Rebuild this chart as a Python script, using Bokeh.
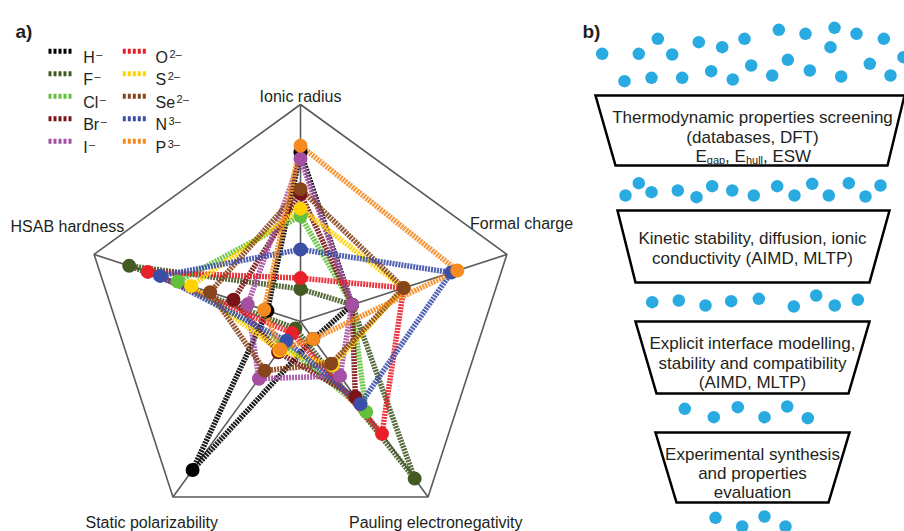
import numpy as np
from bokeh.plotting import figure
from bokeh.models import Range1d
from bokeh.embed import file_html
from bokeh.resources import INLINE
from bokeh.core.properties import value

# ---------------- data (panel a) ----------------
axis_labels = ["Ionic radius", "Formal charge", "Pauling electronegativity",
               "Static polarizability", "HSAB hardness"]
ions = ["H", "F", "Cl", "Br", "I", "O", "S", "Se", "N", "P"]
charges = ["–", "–", "–", "–", "–", "2–", "2–", "2–", "3–", "3–"]
colors = ["#000000", "#435a23", "#63c03c", "#7b1418", "#a44fa3",
          "#e8202a", "#ffd200", "#87451c", "#3c4fa8", "#f58a1f"]
# normalised values (fraction of the axis length), one list per axis, in ion order
ionic_radius      = [0.78, 0.15, 0.486, 0.59, 0.75, 0.20, 0.52, 0.61, 0.332, 0.81]
formal_charge     = [0.25, 0.25, 0.25, 0.25, 0.25, 0.50, 0.50, 0.50, 0.73, 0.76]
electronegativity = [0.10, 0.895, 0.515, 0.43, 0.31, 0.639, 0.25, 0.24, 0.47, 0.10]
polarizability    = [0.846, 0.04, 0.13, 0.175, 0.326, 0.066, 0.165, 0.28, 0.11, 0.158]
hsab_hardness     = [0.16, 0.83, 0.595, 0.325, 0.256, 0.74, 0.53, 0.438, 0.68, 0.176]

# ---------------- data (panel b) ----------------
stage_lines = [
    ["Thermodynamic properties screening", "(databases, DFT)", None],
    ["Kinetic stability, diffusion, ionic", "conductivity (AIMD, MLTP)"],
    ["Explicit interface modelling,", "stability and compatibility", "(AIMD, MLTP)"],
    ["Experimental synthesis", "and properties", "evaluation"],
]
dot_x = [601.7, 638.3, 657.3, 671.7, 698.3, 721.7, 744, 778.3, 805, 834, 856, 883.3,
         624, 651, 681.7, 710.7, 732.3, 750.7, 771.7, 787.3, 809.3, 830, 840.7, 869.3, 890, 903,
         625, 638.3, 651, 677.3, 696, 711.7, 731.7, 753.3, 776.7, 794, 811.7, 828.3, 848.3, 865, 880,
         651.7, 678.3, 705, 730.7, 758.3, 793.3, 815.7, 834.3, 857.3,
         684.3, 713.3, 737.3, 764, 786.7, 807.3,
         715, 741.7, 764, 785]
dot_y = [53.3, 53.3, 38.3, 54, 41.7, 46.7, 38.3, 29.3, 33.3, 27.3, 33.3, 38.3,
         80.7, 77.3, 77.3, 70.7, 79, 65, 75, 59.3, 70, 46.7, 76, 63.3, 75, 56.7,
         195, 182.7, 191.7, 190, 196.7, 185.7, 190, 195, 185.7, 195, 183.3, 195, 182.7, 196, 185,
         301.7, 300, 305, 300.7, 298.3, 306, 295, 305, 299.3,
         408.3, 416.7, 406.7, 416.7, 406, 417.7,
         517.3, 526, 516, 526]

FONT = value("Liberation Sans")
TXT = "#231f20"

p = figure(width=904, height=531, x_range=Range1d(0, 904), y_range=Range1d(531, 0),
           output_backend="svg", toolbar_location=None, min_border=0,
           x_axis_location=None, y_axis_location=None)
p.grid.visible = False
p.outline_line_color = None
p.background_fill_color = "white"

# ---------------- radar geometry ----------------
cx, cy, R = 300.0, 321.0, 217.0
theta = np.radians(90 - 72 * np.arange(5))
ux, uy = np.cos(theta), -np.sin(theta)

vx = cx + R * ux
vy = cy + R * uy
p.line(list(vx) + [vx[0]], list(vy) + [vy[0]], line_color="#5a5a5a", line_width=1.6)
p.segment(x0=[cx] * 5, y0=[cy] * 5, x1=list(vx), y1=list(vy), line_color="#5a5a5a", line_width=1.6)

vals = np.array([ionic_radius, formal_charge, electronegativity, polarizability, hsab_hardness]).T
px = cx + vals * R * ux[None, :]
py = cy + vals * R * uy[None, :]

for i, c in enumerate(colors):
    xs = list(px[i]) + [px[i][0]]
    ys = list(py[i]) + [py[i][0]]
    p.line(xs, ys, line_color=c, line_width=5.5, line_dash="2 1", line_cap="butt", line_alpha=0.9)
for i, c in enumerate(colors):
    p.scatter(px[i], py[i], size=14, fill_color=c, line_color=None, marker="circle")

# axis labels
p.text(x=[300], y=[96], text=[axis_labels[0]], text_align="center", text_font=FONT,
       text_font_size="16px", text_color=TXT, text_baseline="alphabetic")
p.text(x=[469.5], y=[222.5], text=[axis_labels[1]], text_align="left", text_font=FONT,
       text_font_size="16px", text_color=TXT, text_baseline="alphabetic")
p.text(x=[348.5], y=[522], text=[axis_labels[2]], text_align="left", text_font=FONT,
       text_font_size="16px", text_color=TXT, text_baseline="alphabetic")
p.text(x=[85], y=[522], text=[axis_labels[3]], text_align="left", text_font=FONT,
       text_font_size="16px", text_color=TXT, text_baseline="alphabetic")
p.text(x=[10], y=[226], text=[axis_labels[4]], text_align="left", text_font=FONT,
       text_font_size="16px", text_color=TXT, text_baseline="alphabetic")

# legend
label_w = [11.6, 9.8, 15.1, 16.0, 4.4, 12.4, 10.7, 19.6, 11.6, 10.7]
for i, (ion, ch, c) in enumerate(zip(ions, charges, colors)):
    col, row = divmod(i, 5)
    ly = 50.7 + 22.5 * row
    sx = 48 + 74.3 * col
    lx = 82.7 + 72.3 * col
    p.line([sx, sx + 25], [ly, ly], line_color=c, line_width=5, line_dash="3 2", line_cap="butt")
    p.text(x=[lx], y=[ly + 5.8], text=[ion], text_font=FONT, text_font_size="16px",
           text_color=TXT, text_baseline="alphabetic")
    p.text(x=[lx + label_w[i] + 1.5], y=[ly + 2.5], text=[ch], text_font=FONT,
           text_font_size="11px", text_color=TXT, text_baseline="alphabetic")

p.text(x=[15], y=[31], text=["a)"], text_font=FONT, text_font_size="19px",
       text_font_style="bold", text_color=TXT, text_baseline="alphabetic")
p.text(x=[582], y=[31], text=["b)"], text_font=FONT, text_font_size="19px",
       text_font_style="bold", text_color=TXT, text_baseline="alphabetic")

# ---------------- funnel (panel b) ----------------
box_top = [95, 210, 321, 432]
box_bot = [165, 282, 393, 502]
box_tl = [595, 617, 635, 655]
box_tr = [904, 889, 869, 849]
box_bl = [615, 635, 656, 676]
box_br = [887, 869, 848, 828]
p.patches(xs=[[a, b, c, d] for a, b, c, d in zip(box_tl, box_tr, box_br, box_bl)],
          ys=[[t, t, b, b] for t, b in zip(box_top, box_bot)],
          fill_color="white", line_color="black", line_width=2.5, line_join="miter")

p.scatter(dot_x, dot_y, size=12.5, fill_color="#29abe2", line_color=None, marker="circle")

bx = 752
baselines = [[117.3, 136.5, 155.5], [238.3, 258.3], [343.3, 362.7, 381.7], [454.3, 473.3, 492]]
for lines, bls in zip(stage_lines, baselines):
    for t, b in zip(lines, bls):
        if t is None:
            continue
        p.text(x=[bx], y=[b], text=[t], text_align="center", text_font=FONT,
               text_font_size="17px", text_color=TXT, text_baseline="alphabetic")

# E_gap, E_hull, ESW with subscripts
ex = 695.0
pieces = [("E", 17, 0), ("gap", 11, 4), (", E", 17, 0), ("hull", 11, 4), (", ESW", 17, 0)]
piece_w = [11.3, 18.3, 20.8, 17.1, 48.2]
xpos = ex
for (t, fs, dy), w in zip(pieces, piece_w):
    p.text(x=[xpos], y=[155.5 + dy], text=[t], text_font=FONT, text_font_size=f"{fs}px",
           text_color=TXT, text_baseline="alphabetic")
    xpos += w

open("out.html", "w").write(file_html(p, INLINE))
